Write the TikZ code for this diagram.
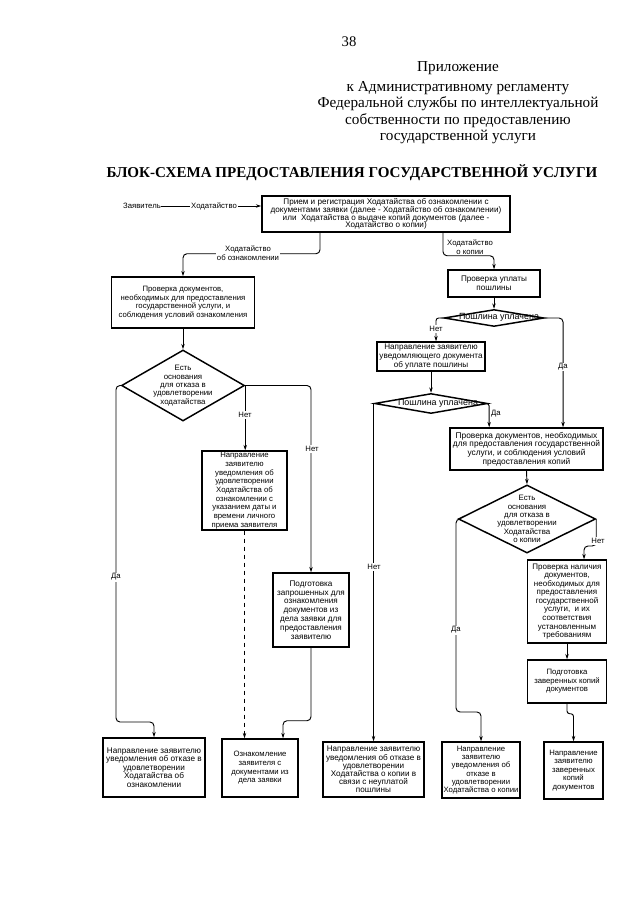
\documentclass[tikz,border=0pt]{standalone}
\usepackage{fontspec}
\setmainfont{Liberation Serif}
\newfontfamily\sansf{Liberation Sans}
\usetikzlibrary{arrows.meta,shapes.geometric}
\newcommand\boxfnt{\sansf\fontsize{6.1}{6.5}\selectfont}
\newcommand\fnt[2]{\sansf\fontsize{#1}{#2}\selectfont}
\begin{document}
\begin{tikzpicture}[x=0.75pt,y=-0.75pt,
  box/.style={draw, line width=1.1pt, rectangle, inner sep=1pt, align=center, font=\boxfnt},
  dia/.style={draw, line width=1.1pt, diamond, inner sep=0pt},
  dtext/.style={align=center, font=\boxfnt, inner sep=0pt},
  arr/.style={line width=0.7pt, -{Stealth[length=4pt,width=2.6pt]}},
  lbl/.style={font=\fnt{5.8}{6.3}, fill=white, inner sep=0.8pt, align=center},
  hdr/.style={font=\fontsize{11.4}{11.4}\selectfont, inner sep=0pt},
]
\useasboundingbox (0,0) rectangle (640,905);
\fill[white] (0,0) rectangle (640,905);

% header
\node[font=\fontsize{11}{11}\selectfont, inner sep=0pt] (pg) at (349,42) {38};
\node[hdr] (h1) at (458,68) {Приложение};
\node[hdr] (h2) at (458,88) {к Административному регламенту};
\node[hdr] (h3) at (458,104) {Федеральной службы по интеллектуальной};
\node[hdr] (h4) at (458,121) {собственности по предоставлению};
\node[hdr] (h5) at (458,137) {государственной услуги};
\node[font=\bfseries\fontsize{11.3}{11.3}\selectfont, inner sep=0pt] (title) at (352,173) {БЛОК-СХЕМА ПРЕДОСТАВЛЕНИЯ ГОСУДАРСТВЕННОЙ УСЛУГИ};

% boxes
\node[box, minimum width=186pt, minimum height=27pt, font=\fnt{6.1}{5.9}] (T) at (386,214) {Прием и регистрация Ходатайства об ознакомлении с\\документами заявки (далее - Ходатайство об ознакомлении)\\или\ \ Ходатайства о выдаче копий документов (далее -\\Ходатайство о копии)};
\node[inner sep=0pt, font=\fnt{5.8}{6.3}] (zv) at (142,206) {Заявитель};

\node[box, minimum width=107.25pt, minimum height=38.25pt, font=\fnt{5.8}{6.4}] (L1) at (183,302.5) {Проверка документов,\\необходимых для предоставления\\государственной услуги, и\\соблюдения условий ознакомления};
\node[box, minimum width=69pt, minimum height=20.25pt] (R1) at (494,283.5) {Проверка уплаты\\пошлины};
\node[box, minimum width=81pt, minimum height=21.75pt] (R2) at (431,356.5) {Направление заявителю\\уведомляющего документа\\об уплате пошлины};
\node[box, minimum width=114.75pt, minimum height=31.5pt, font=\fnt{6.25}{6.5}] (R3) at (526.5,449) {Проверка документов, необходимых\\для предоставления государственной\\услуги, и соблюдения условий\\предоставления копий};
\node[box, minimum width=63.75pt, minimum height=59.25pt, font=\fnt{5.8}{6.5}] (L2) at (244.5,490.5) {Направление\\заявителю\\уведомления об\\удовлетворении\\Ходатайства об\\ознакомлении с\\указанием даты и\\времени личного\\приема заявителя};
\node[box, minimum width=57pt, minimum height=55.5pt, font=\fnt{6.1}{6.6}] (L3) at (311,610) {Подготовка\\запрошенных для\\ознакомления\\документов из\\дела заявки для\\предоставления\\заявителю};
\node[box, minimum width=59.25pt, minimum height=62.25pt, font=\fnt{6.0}{6.4}] (R4) at (567,601.5) {Проверка наличия\\документов,\\необходимых для\\предоставления\\государственной\\услуги,\ \ и их\\соответствия\\установленным\\требованиям};
\node[box, minimum width=59.25pt, minimum height=32.25pt, font=\fnt{5.8}{6.4}] (R5) at (567,681.5) {Подготовка\\заверенных копий\\документов};

\node[box, minimum width=76.5pt, minimum height=44.25pt, font=\fnt{6.15}{6.3}] (B1) at (154,767.5) {Направление заявителю\\уведомления об отказе в\\удовлетворении\\Ходатайства об\\ознакомлении};
\node[box, minimum width=57pt, minimum height=43.5pt, font=\fnt{5.8}{6.5}] (B2) at (260,768) {Ознакомление\\заявителя с\\документами из\\дела заявки};
\node[box, minimum width=75.75pt, minimum height=41.25pt, font=\fnt{6.1}{6.1}] (B3) at (373.5,769.5) {Направление заявителю\\уведомления об отказе в\\удовлетворении\\Ходатайства о копии в\\связи с неуплатой\\пошлины};
\node[box, minimum width=58.5pt, minimum height=42pt, font=\fnt{5.8}{6.2}] (B4) at (481,770) {Направление\\заявителю\\уведомления об\\отказе в\\удовлетворении\\Ходатайства о копии};
\node[box, minimum width=44.25pt, minimum height=42.75pt, font=\fnt{5.8}{6.4}] (B5) at (573.5,770.5) {Направление\\заявителю\\заверенных\\копий\\документов};

% diamonds
\node[dia, minimum width=75pt, minimum height=12.75pt] (D1) at (494,318) {};
\node[dtext, font=\fnt{6.7}{6.7}] (D1t) at (499,317) {Пошлина уплачена};
\node[dia, minimum width=84.75pt, minimum height=15pt] (D2) at (431,403.5) {};
\node[dtext, font=\fnt{6.7}{6.7}] (D2t) at (438,403) {Пошлина уплачена};
\node[dia, minimum width=92.25pt, minimum height=53.25pt] (D3) at (183,385.5) {};
\node[dtext, font=\fnt{5.9}{6.3}] (D3t) at (183,385.5) {Есть\\основания\\для отказа в\\удовлетворении\\ходатайства};
\node[dia, minimum width=102.75pt, minimum height=51pt] (D4) at (527,519) {};
\node[dtext, font=\fnt{5.9}{6.3}] (D4t) at (527,519) {Есть\\основания\\для отказа в\\удовлетворении\\Ходатайства\\о копии};

% connectors
\draw[arr] (zv) -- (zv -| T.west);
\node[lbl] (lz) at (214,206) {Ходатайство};

\draw[arr, rounded corners=3pt] ([xshift=-49.5pt]T.south) -- ++(0,21) -| (L1.north);
\node[lbl] (l1) at (248,253) {Ходатайство\\об ознакомлении};
\draw[arr, rounded corners=3pt] ([xshift=42.75pt]T.south) -- ++(0,23) -| (R1.north);
\node[lbl] (l2) at (470,247) {Ходатайство\\о копии};

\draw[arr] (R1.south) -- (D1.north);
\draw[arr, rounded corners=2pt] (D1.west) -| ([xshift=3.75pt]R2.north);
\node[lbl] (l3) at (436,329) {Нет};
\draw[arr, rounded corners=3pt] (D1.east) -| ([xshift=27.4pt]R3.north);
\node[lbl] (l4) at (563,367) {Да};

\draw[arr] (R2.south) -- (D2.north);
\draw[arr, rounded corners=2pt] (D2.east) -| ([xshift=-28pt]R3.north);
\node[lbl] (l5) at (496,414) {Да};
\draw[arr] (D2.west) -| (B3.north);
\node[lbl] (l6) at (374,567) {Нет};

\draw[arr] (L1.south) -- (D3.north);
\draw[arr, rounded corners=3pt] (D3.west) -| (116,722) -| (B1.north);
\node[lbl] (l7) at (116,577) {Да};
\draw[arr] (D3.east) -- (D3.east |- L2.north);
\node[lbl] (l8) at (245,415) {Нет};
\draw[arr, rounded corners=3pt] (D3.east) -| (L3.north);
\node[lbl] (l9) at (312,449) {Нет};
\draw[arr, dashed] (L2.south) -- (L2.south |- B2.north);
\draw[arr, rounded corners=3pt] (L3.south) -- ++(0,73) -| ([xshift=17.25pt]B2.north);

\draw[arr] (R3.south) -- (D4.north);
\draw[arr, rounded corners=3pt] (D4.east) -- ++(0,27) -| ([xshift=12.75pt]R4.north);
\node[lbl] (l10) at (598,541) {Нет};
\draw[arr, rounded corners=3pt] (D4.west) -| (456,712) -| (B4.north);
\node[lbl] (l11) at (456,630) {Да};
\draw[arr] (R4.south) -- (R5.north);
\draw[arr, rounded corners=2pt] (R5.south) -- ++(0,10) -| (B5.north);
\end{tikzpicture}
\end{document}
